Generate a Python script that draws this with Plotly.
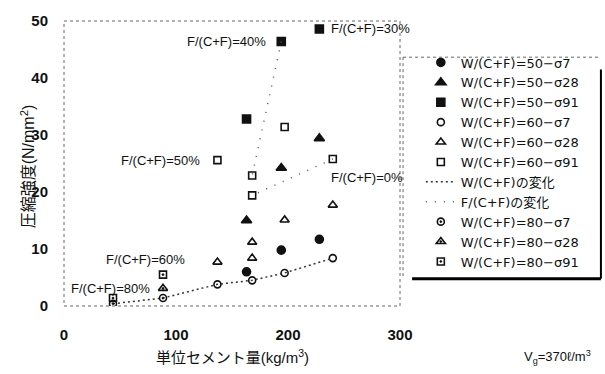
import plotly.graph_objects as go

# Unit cement content (kg/m3) of each mix, by water-binder ratio W/(C+F)
X_50 = [163, 194, 228]
X_60 = [137, 168, 168, 197, 240]
X_80 = [43.75, 88.4]

# Compressive strength (N/mm2) at 7, 28 and 91 days
S7_50 = [6.0, 9.8, 11.7]
S28_50 = [15.0, 24.2, 29.4]
S91_50 = [32.8, 46.4, 48.6]

S7_60 = [3.8, 4.5, None, 5.8, 8.4]
S28_60 = [7.7, 8.4, 11.2, 15.1, 17.7]
S91_60 = [25.6, 22.9, 19.4, 31.4, 25.8]

S7_80 = [0.4, 1.4]
S28_80 = [None, 3.1]
S91_80 = [1.4, 5.5]

# Lines of constant F/(C+F) (segments separated by None)
F_LINE_X = [194, 168, None, 240, 168]
F_LINE_Y = [46.4, 22.9, None, 25.8, 19.4]

# Labels of fly-ash ratio: (text, x, y, anchor)
F_LABELS = [
    ("F/(C+F)=40%", 182, 46.4, "right"),
    ("F/(C+F)=30%", 237, 48.6, "left"),
    ("F/(C+F)=50%", 123, 25.6, "right"),
    ("F/(C+F)=0%", 237, 22.5, "left"),
    ("F/(C+F)=60%", 110, 8.2, "right"),
    ("F/(C+F)=80%", 79, 3.1, "right"),
]

FONT = "Liberation Sans, Arial, Noto Sans CJK JP"
LEG_FONT = "DejaVu Sans, Noto Sans CJK JP"
INK = "#111111"

# W/(C+F) variation line runs through the 7-day points of the 80 and 60 series
w_pts = sorted((x, y) for x, y in zip(X_80 + X_60, S7_80 + S7_60) if y is not None)
W_LINE_X = [p[0] for p in w_pts]
W_LINE_Y = [p[1] for p in w_pts]

fig = go.Figure()


def add_points(name, xs, ys, symbol, size):
    fig.add_trace(go.Scatter(
        x=xs, y=ys, mode="markers", name=name,
        marker=dict(symbol=symbol, size=size, color=INK,
                    line=dict(color=INK, width=1.6)),
    ))


add_points("W/(C+F)=50−σ7", X_50, S7_50, "circle", 8)
add_points("W/(C+F)=50−σ28", X_50, S28_50, "triangle-up", 9)
add_points("W/(C+F)=50−σ91", X_50, S91_50, "square", 8)
add_points("W/(C+F)=60−σ7", X_60, S7_60, "circle-open", 7)
add_points("W/(C+F)=60−σ28", X_60, S28_60, "triangle-up-open", 8)
add_points("W/(C+F)=60−σ91", X_60, S91_60, "square-open", 7)

fig.add_trace(go.Scatter(
    x=W_LINE_X, y=W_LINE_Y, mode="lines", name="W/(C+F)の変化",
    line=dict(color="#333333", width=1.5, dash="2px,3px"),
))
fig.add_trace(go.Scatter(
    x=F_LINE_X, y=F_LINE_Y, mode="lines", name="F/(C+F)の変化",
    line=dict(color="#555555", width=1.5, dash="1px,8px"),
))

add_points("W/(C+F)=80−σ7", X_80, S7_80, "circle-open-dot", 7)
add_points("W/(C+F)=80−σ28", X_80, S28_80, "triangle-up-open-dot", 8)
add_points("W/(C+F)=80−σ91", X_80, S91_80, "square-open-dot", 7)

annotations = [
    dict(text=t, x=x, y=y, xref="x", yref="y", xanchor=a, yanchor="middle",
         showarrow=False, font=dict(size=13, color=INK, family=FONT))
    for t, x, y, a in F_LABELS
]
annotations += [
    dict(text="圧縮強度(N/mm<sup>2</sup>)", x=-0.143, y=0.49, xref="paper", yref="paper",
         textangle=-90, showarrow=False, font=dict(size=16, color=INK, family=FONT)),
    dict(text="単位セメント量(kg/m<sup>3</sup>)", x=0.5, y=-0.178, xref="paper", yref="paper",
         xanchor="center", yanchor="middle",
         showarrow=False, font=dict(size=15, color=INK, family=FONT)),
    dict(text="V<sub>g</sub>=370ℓ/m<sup>3</sup>", x=1.574, y=-0.178, xref="paper", yref="paper",
         xanchor="right", yanchor="middle",
         showarrow=False, font=dict(size=13, color=INK, family=FONT)),
]

shapes = [
    # dotted plot frame
    dict(type="rect", xref="paper", yref="paper", x0=0, y0=0, x1=1, y1=1,
         line=dict(color="#666666", width=1, dash="dot")),
    # legend frame: dotted top/left, heavy shadow bottom/right
    dict(type="line", xref="paper", yref="paper", x0=1.009, x1=1.598, y0=0.873, y1=0.873,
         line=dict(color="#666666", width=1, dash="dot")),
    dict(type="line", xref="paper", yref="paper", x0=1.009, x1=1.009, y0=0.873, y1=0.096,
         line=dict(color="#666666", width=1, dash="dot")),
    dict(type="line", xref="paper", yref="paper", x0=1.036, x1=1.598, y0=0.096, y1=0.096,
         line=dict(color="#000000", width=3)),
    dict(type="line", xref="paper", yref="paper", x0=1.598, x1=1.598, y0=0.096, y1=0.83,
         line=dict(color="#000000", width=2)),
]

fig.update_layout(
    width=605, height=374,
    margin=dict(l=64, r=205, t=15, b=68),
    paper_bgcolor="white", plot_bgcolor="white",
    font=dict(family=FONT, size=14, color=INK),
    showlegend=True,
    legend=dict(x=1.062, y=0.907, xanchor="left", yanchor="top",
                bgcolor="rgba(0,0,0,0)", borderwidth=0,
                font=dict(size=13, family=LEG_FONT, color=INK),
                itemwidth=30, tracegroupgap=0),
    annotations=annotations,
    shapes=shapes,
)
fig.update_xaxes(range=[0, 300], tickvals=[0, 100, 200, 300], showgrid=False,
                 zeroline=False, showline=False, ticks="", ticklabelstandoff=18,
                 tickfont=dict(size=15, family=FONT, color=INK, weight="bold"))
fig.update_yaxes(range=[0, 50], tickvals=[0, 10, 20, 30, 40, 50], showgrid=False,
                 zeroline=False, showline=False, ticks="", ticklabelstandoff=15,
                 tickfont=dict(size=15, family=FONT, color=INK, weight="bold"))

fig.write_html("out.html")
